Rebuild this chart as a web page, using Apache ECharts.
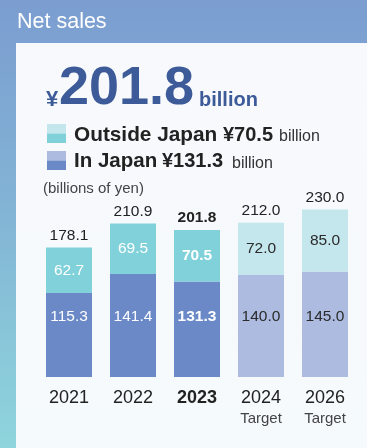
<!DOCTYPE html>
<html>
<head>
<meta charset="utf-8">
<style>
  html, body { margin: 0; padding: 0; background: #ffffff; }
  #chart { width: 367px; height: 448px; }
</style>
<script src="https://cdn.jsdelivr.net/npm/echarts@6/dist/echarts.min.js"></script>
</head>
<body>
<div id="chart"></div>
<script>
// Net sales by fiscal year, split into domestic and overseas (billions of yen)
const years = ['2021', '2022', '2023', '2024', '2026'];
const yearNotes = ['', '', '', 'Target', 'Target'];
const inJapan = [115.3, 141.4, 131.3, 140.0, 145.0];
const outsideJapan = [62.7, 69.5, 70.5, 72.0, 85.0];
const totals = [178.1, 210.9, 201.8, 212.0, 230.0];
const currentYearIndex = 2;

const FONT = '"Liberation Sans", Arial, Helvetica, sans-serif';

const colors = {
  japan: '#6b89c6',
  japanTarget: '#adbbe0',
  outside: '#80d1d9',
  outsideTarget: '#c3e7ec',
  headline: '#3d5b98',
  text: '#222222'
};

const isTarget = i => yearNotes[i] === 'Target';

function insideLabel(i) {
  return {
    color: isTarget(i) ? '#2a2a2a' : '#ffffff',
    fontWeight: i === currentYearIndex ? 'bold' : 'normal'
  };
}

const japanData = inJapan.map((v, i) => ({
  value: v,
  itemStyle: { color: isTarget(i) ? colors.japanTarget : colors.japan },
  label: insideLabel(i)
}));

const outsideData = outsideJapan.map((v, i) => ({
  value: v,
  itemStyle: { color: isTarget(i) ? colors.outsideTarget : colors.outside },
  label: insideLabel(i)
}));

const totalData = totals.map((v, i) => ({
  value: v,
  label: { fontWeight: i === currentYearIndex ? 'bold' : 'normal' }
}));

const chart = echarts.init(document.getElementById('chart'), null, { renderer: 'canvas' });

// Helper for text placed by its baseline (middle-anchored text)
function textAt(x, baseline, text, size, weight, color) {
  return {
    type: 'text',
    x: x,
    y: baseline - size * 0.36,
    style: {
      text: text,
      font: weight + ' ' + size + 'px ' + FONT,
      fill: color,
      verticalAlign: 'middle',
      align: 'left'
    },
    z: 10
  };
}

function legendSwatch(y, light, dark) {
  return [
    { type: 'rect', shape: { x: 47, y: y, width: 19, height: 9.5 }, style: { fill: light }, z: 10 },
    { type: 'rect', shape: { x: 47, y: y + 9.5, width: 19, height: 9.5 }, style: { fill: dark }, z: 10 }
  ];
}

const option = {
  animation: false,
  graphic: [
    {
      type: 'rect',
      shape: { x: 0, y: 0, width: 367, height: 448 },
      style: {
        fill: new echarts.graphic.LinearGradient(0, 0, 0, 1, [
          { offset: 0, color: '#7b9dd0' },
          { offset: 0.45, color: '#82b3d5' },
          { offset: 1, color: '#8ed5dc' }
        ])
      },
      z: 0
    },
    {
      type: 'rect',
      shape: { x: 16, y: 43, width: 351, height: 405 },
      style: {
        fill: new echarts.graphic.LinearGradient(0, 0, 0, 1, [
          { offset: 0, color: '#f8f9fc' },
          { offset: 1, color: '#f5fafc' }
        ])
      },
      z: 1
    },
    textAt(17, 29.5, 'Net sales', 21.5, 'normal', '#ffffff'),
    // Headline figure
    textAt(46, 108, '¥', 22, 'bold', colors.headline),
    textAt(59, 109, '201.8', 54, 'bold', colors.headline),
    textAt(199, 108, 'billion', 20, 'bold', colors.headline),
    // Legend
    ...legendSwatch(124, colors.outsideTarget, colors.outside),
    ...legendSwatch(151, colors.japanTarget, colors.japan),
    textAt(74, 142.3, 'Outside Japan', 20.8, 'bold', colors.text),
    textAt(223, 142.3, '¥70.5', 20, 'bold', colors.text),
    textAt(279, 142.3, 'billion', 16, 'normal', '#333333'),
    textAt(74, 169, 'In Japan', 20.5, 'bold', colors.text),
    textAt(162, 169, '¥131.3', 20, 'bold', colors.text),
    textAt(232, 169, 'billion', 16, 'normal', '#333333'),
    // Unit note
    textAt(43, 194, '(billions of yen)', 15, 'normal', '#444444')
  ],
  grid: { left: 37, right: 10, top: 195, bottom: 71, containLabel: false },
  xAxis: {
    type: 'category',
    data: years,
    z: 12,
    axisLine: { show: false },
    axisTick: { show: false },
    axisLabel: {
      margin: 11.5,
      interval: 0,
      formatter: function (value, index) {
        const yearStyle = index === currentYearIndex ? 'yb' : 'y';
        const note = yearNotes[index];
        return '{' + yearStyle + '|' + value + '}' + (note ? '\n{t|' + note + '}' : '');
      },
      rich: {
        y: { fontSize: 18, color: '#222222', fontFamily: FONT, lineHeight: 20 },
        yb: { fontSize: 18, color: '#222222', fontFamily: FONT, fontWeight: 'bold', lineHeight: 20 },
        t: { fontSize: 15, color: '#444444', fontFamily: FONT, lineHeight: 20 }
      }
    }
  },
  yAxis: {
    type: 'value',
    min: 0,
    max: 250,
    show: false,
    splitLine: { show: false }
  },
  series: [
    {
      name: 'In Japan',
      type: 'bar',
      stack: 'sales',
      barWidth: 46,
      data: japanData,
      z: 3,
      label: {
        show: true,
        position: 'insideBottom',
        distance: 52,
        fontSize: 15.5,
        fontFamily: FONT,
        formatter: p => p.value.toFixed(1)
      }
    },
    {
      name: 'Outside Japan',
      type: 'bar',
      stack: 'sales',
      barWidth: 46,
      data: outsideData,
      z: 3,
      label: {
        show: true,
        position: 'inside',
        fontSize: 15.5,
        fontFamily: FONT,
        formatter: p => p.value.toFixed(1)
      }
    },
    {
      name: 'Total',
      type: 'bar',
      barWidth: 46,
      barGap: '-100%',
      data: totalData,
      z: 2,
      silent: true,
      itemStyle: { color: 'rgba(0,0,0,0)' },
      label: {
        show: true,
        position: 'top',
        distance: 4,
        fontSize: 15.5,
        fontFamily: FONT,
        color: '#222222',
        formatter: p => p.value.toFixed(1)
      }
    }
  ]
};

chart.setOption(option);
</script>
</body>
</html>
